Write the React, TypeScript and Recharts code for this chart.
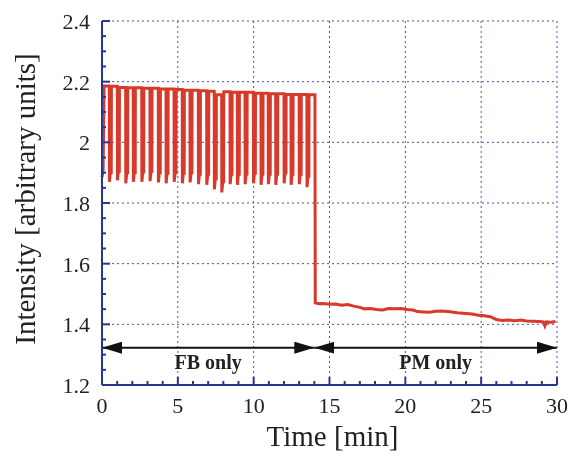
import {
  CartesianGrid,
  Line,
  LineChart,
  ReferenceLine,
  XAxis,
  YAxis,
} from "recharts";

// tick values
const xMajor = [0, 5, 10, 15, 20, 25, 30];
const xMinor = [
  0, 1, 2, 3, 4, 5, 6, 7, 8, 9, 10, 11, 12, 13, 14, 15, 16, 17, 18, 19, 20,
  21, 22, 23, 24, 25, 26, 27, 28, 29, 30,
];
const yMajor = [1.2, 1.4, 1.6, 1.8, 2, 2.2, 2.4];
const yMinor = [
  1.2, 1.25, 1.3, 1.35, 1.4, 1.45, 1.5, 1.55, 1.6, 1.65, 1.7, 1.75, 1.8, 1.85,
  1.9, 1.95, 2, 2.05, 2.1, 2.15, 2.2, 2.25, 2.3, 2.35, 2.4,
];

// FB phase: start of trace, dips of the oscillation
const startTimes = [0, 0.07, 0.14];
const startValues = [1.885, 1.905, 2.186];
const dipTimes = [
  0.48, 1.01, 1.56, 2.06, 2.62, 3.16, 3.71, 4.22, 4.75, 5.29, 5.8, 6.35, 6.9,
  7.4, 7.89, 8.44, 8.92, 9.43, 9.98, 10.48, 10.96, 11.45, 12.0, 12.46, 13.0,
  13.51,
];
const plateauLevels = [
  2.186, 2.185, 2.181, 2.18, 2.18, 2.178, 2.178, 2.176, 2.176, 2.174, 2.172,
  2.172, 2.17, 2.168, 2.157, 2.167, 2.165, 2.165, 2.165, 2.162, 2.162, 2.16,
  2.16, 2.158, 2.158, 2.158, 2.157,
];
const troughLevels = [
  1.87, 1.875, 1.865, 1.87, 1.87, 1.872, 1.868, 1.865, 1.87, 1.865, 1.868,
  1.862, 1.86, 1.845, 1.835, 1.862, 1.86, 1.862, 1.865, 1.86, 1.862, 1.86,
  1.865, 1.86, 1.862, 1.852,
];
const shoulderLevels = [
  1.9, 1.905, 1.9, 1.9, 1.902, 1.905, 1.9, 1.898, 1.9, 1.898, 1.9, 1.895,
  1.895, 1.88, 1.87, 1.895, 1.895, 1.895, 1.898, 1.895, 1.895, 1.895, 1.9,
  1.895, 1.895, 1.888,
];
const switchTime = 14.04;

// PM phase
const pmTimes = [
  14.06, 14.3, 14.6, 15.0, 15.4, 15.8, 16.2, 16.6, 17.0, 17.3, 17.7, 18.1,
  18.5, 18.9, 19.3, 19.7, 20.1, 20.5, 20.8, 21.2, 21.6, 22.0, 22.4, 22.8, 23.2,
  23.6, 24.0, 24.4, 24.8, 25.2, 25.6, 26.0, 26.4, 26.8, 27.2, 27.6, 28.0, 28.4,
  28.8, 29.1, 29.2, 29.3, 29.6, 29.9,
];
const pmValues = [
  1.471, 1.468, 1.469, 1.466, 1.467, 1.463, 1.465, 1.46, 1.456, 1.451, 1.452,
  1.449, 1.447, 1.452, 1.451, 1.452, 1.449, 1.447, 1.442, 1.441, 1.44, 1.443,
  1.444, 1.442, 1.44, 1.437, 1.436, 1.434, 1.43, 1.428, 1.425, 1.416, 1.413,
  1.414, 1.412, 1.414, 1.411, 1.41, 1.409, 1.408, 1.395, 1.408, 1.407, 1.409,
];

const arrowY = 1.323;
const phases = [
  { label: "FB only", from: 0, to: 14 },
  { label: "PM only", from: 14, to: 30 },
];

const data: { t: number; v: number }[] = [];
startTimes.forEach((t, i) => data.push({ t, v: startValues[i] }));
dipTimes.forEach((t, i) => {
  data.push({ t, v: plateauLevels[i] });
  data.push({ t: t + 0.01, v: troughLevels[i] });
  data.push({ t: t + 0.07, v: shoulderLevels[i] });
  data.push({ t: t + 0.13, v: shoulderLevels[i] });
  data.push({ t: t + 0.14, v: plateauLevels[i + 1] });
});
data.push({ t: switchTime, v: plateauLevels[plateauLevels.length - 1] });
pmTimes.forEach((t, i) => data.push({ t, v: pmValues[i] }));

const NAVY = "#2a3592";
const RED = "#d7392b";
const FONT = "Liberation Serif, Times New Roman, serif";

const isMajorY = (v: number) => yMajor.some((m) => Math.abs(m - v) < 1e-6);

function BottomTick(props: any) {
  const { x, y, payload } = props;
  const major = xMajor.includes(payload.value);
  return (
    <g>
      <line x1={x} x2={x} y1={y} y2={y - (major ? 8 : 4)} stroke={NAVY} strokeWidth={2} />
      {major && (
        <text x={x} y={y + 28} textAnchor="middle" fontSize={22} style={{ fontFamily: FONT }} fill="#222">
          {payload.value}
        </text>
      )}
    </g>
  );
}

function TopTick(props: any) {
  const { x, y, payload } = props;
  const major = xMajor.includes(payload.value);
  return <line x1={x} x2={x} y1={y} y2={y + (major ? 8 : 4)} stroke={NAVY} strokeWidth={2} />;
}

function LeftTick(props: any) {
  const { x, y, payload } = props;
  const major = isMajorY(payload.value);
  return (
    <g>
      <line x1={x} x2={x + (major ? 8 : 4)} y1={y} y2={y} stroke={NAVY} strokeWidth={2} />
      {major && (
        <text x={x - 12} y={y + 8} textAnchor="end" fontSize={22} style={{ fontFamily: FONT }} fill="#222">
          {String(payload.value)}
        </text>
      )}
    </g>
  );
}

function RightTick(props: any) {
  const { x, y, payload } = props;
  const major = isMajorY(payload.value);
  return <line x1={x} x2={x - (major ? 8 : 4)} y1={y} y2={y} stroke={NAVY} strokeWidth={2} />;
}

function YTitle(props: any) {
  const { viewBox } = props;
  const cx = 35;
  const cy = viewBox.y + viewBox.height / 2 - 4;
  return (
    <text
      x={cx}
      y={cy}
      transform={`rotate(-90, ${cx}, ${cy})`}
      textAnchor="middle"
      fontSize={29}
      style={{ fontFamily: FONT }}
      fill="#222"
    >
      Intensity [arbitrary units]
    </text>
  );
}

function XTitle(props: any) {
  const { viewBox } = props;
  return (
    <text
      x={viewBox.x + viewBox.width / 2 + 3}
      y={446}
      textAnchor="middle"
      fontSize={29}
      style={{ fontFamily: FONT }}
      fill="#222"
    >
      Time [min]
    </text>
  );
}

export default function App() {
  return (
    <div style={{ position: "fixed", left: 0, top: 0 }}>
      <LineChart
        width={570}
        height={457}
        data={data}
        margin={{ top: 21, right: 13, bottom: 12, left: 42 }}
      >
        <defs>
          <marker
            id="arrowHead"
            viewBox="0 0 20 12"
            refX="20"
            refY="6"
            markerWidth="20"
            markerHeight="12"
            markerUnits="userSpaceOnUse"
            orient="auto-start-reverse"
          >
            <path d="M0,0 L20,6 L0,12 z" fill="#111" />
          </marker>
        </defs>
        <CartesianGrid
          verticalValues={xMajor}
          horizontalValues={yMajor}
          stroke="#4650b0"
          strokeDasharray="2 3"
          strokeWidth={1}
        />
        <XAxis
          dataKey="t"
          type="number"
          domain={[0, 30]}
          ticks={xMinor}
          interval={0}
          tickSize={0}
          tickMargin={0}
          height={60}
          axisLine={{ stroke: NAVY, strokeWidth: 2 }}
          tickLine={false}
          tick={<BottomTick />}
          label={<XTitle />}
        />
        <XAxis
          xAxisId="top"
          orientation="top"
          type="number"
          domain={[0, 30]}
          ticks={xMinor}
          interval={0}
          tickSize={0}
          tickMargin={0}
          height={0}
          axisLine={{ stroke: NAVY, strokeWidth: 2 }}
          tickLine={false}
          tick={<TopTick />}
        />
        <YAxis
          type="number"
          domain={[1.2, 2.4]}
          ticks={yMinor}
          interval={0}
          tickSize={0}
          tickMargin={0}
          width={60}
          axisLine={{ stroke: NAVY, strokeWidth: 2 }}
          tickLine={false}
          tick={<LeftTick />}
          label={<YTitle />}
        />
        <YAxis
          yAxisId="right"
          orientation="right"
          type="number"
          domain={[1.2, 2.4]}
          ticks={yMinor}
          interval={0}
          tickSize={0}
          tickMargin={0}
          width={0}
          axisLine={{ stroke: NAVY, strokeWidth: 2 }}
          tickLine={false}
          tick={<RightTick />}
        />
        {phases.map((p) => (
          <ReferenceLine
            key={p.label}
            segment={[
              { x: p.from, y: arrowY },
              { x: p.to, y: arrowY },
            ]}
            stroke="#111"
            strokeWidth={2}
            markerStart="url(#arrowHead)"
            markerEnd="url(#arrowHead)"
            label={{
              value: p.label,
              position: "bottom",
              offset: 7,
              fontSize: 20,
              fontWeight: "bold",
              fontFamily: FONT,
              fill: "#222",
            }}
          />
        ))}
        <Line
          type="linear"
          dataKey="v"
          stroke={RED}
          strokeWidth={3}
          dot={false}
          isAnimationActive={false}
        />
      </LineChart>
    </div>
  );
}
